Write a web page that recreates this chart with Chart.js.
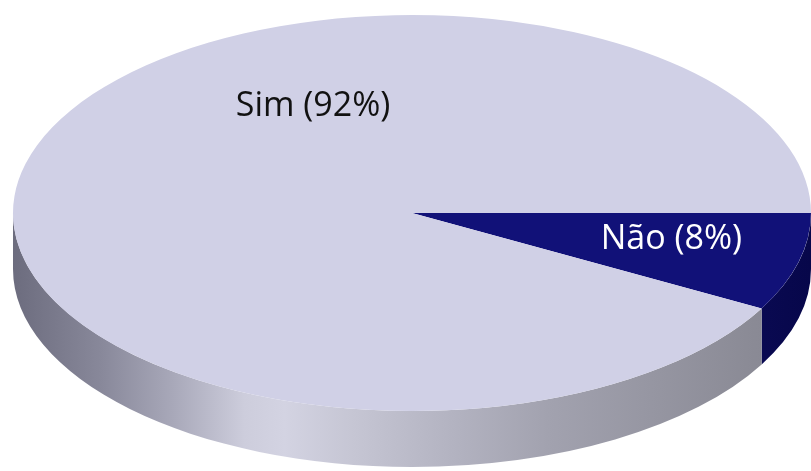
<!DOCTYPE html>
<html>
<head>
<meta charset="utf-8">
<script src="https://cdn.jsdelivr.net/npm/chart.js@4.4.1/dist/chart.umd.min.js"></script>
<style>
  html, body { margin: 0; padding: 0; background: #fff; }
  #wrap { width: 811px; height: 471px; }
</style>
</head>
<body>
<div id="wrap"><canvas id="grafico" width="811" height="471"></canvas></div>
<script>
// Respuestas (porcentajes)
const categorias = ['Não', 'Sim'];
const valores = [8, 92];
const coresTopo = ['#111178', '#d0d0e6'];

// Posición de cada etiqueta relativa a la elipse (-1..1)
const posEtiquetas = [[0.65, 0.135], [-0.248, -0.54]];
const corEtiquetas = ['#ffffff', '#111111'];

// Pastel "3D": aplana el círculo en elipse y dibuja el canto
const pastel3d = {
  id: 'pastel3d',
  beforeDatasetsDraw(chart, args, o) {
    const ctx = chart.ctx;
    const arcs = chart.getDatasetMeta(0).data;
    // canto visible (mitad frontal: 0..PI)
    arcs.forEach((arc, i) => {
      const p = arc.getProps(['startAngle', 'endAngle'], true);
      const a = Math.max(p.startAngle, 0);
      const b = Math.min(p.endAngle, Math.PI);
      if (b <= a) return;
      const g = ctx.createLinearGradient(o.cx - o.rx, 0, o.cx + o.rx, 0);
      o.cantos[i].forEach(([t, c]) => g.addColorStop(t, c));
      ctx.beginPath();
      ctx.ellipse(o.cx, o.cy, o.rx, o.ry, 0, a, b);
      ctx.ellipse(o.cx, o.cy + o.alto, o.rx, o.ry, 0, b, a, true);
      ctx.closePath();
      ctx.fillStyle = g;
      ctx.fill();
    });
    const a0 = arcs[0];
    const R = a0.outerRadius;
    ctx.save();
    ctx.translate(o.cx, o.cy);
    ctx.scale(o.rx / R, o.ry / R);
    ctx.translate(-a0.x, -a0.y);
  },
  afterDatasetsDraw(chart, args, o) {
    const ctx = chart.ctx;
    ctx.restore();
    ctx.font = '34px "Open Sans"';
    ctx.textAlign = 'center';
    ctx.textBaseline = 'middle';
    categorias.forEach((c, i) => {
      const [u, v] = posEtiquetas[i];
      ctx.fillStyle = corEtiquetas[i];
      ctx.fillText(`${c} (${valores[i]}%)`, o.cx + u * o.rx, o.cy + v * o.ry);
    });
  }
};

new Chart(document.getElementById('grafico'), {
  type: 'pie',
  data: {
    labels: categorias,
    datasets: [{
      data: valores,
      backgroundColor: coresTopo,
      borderWidth: 0
    }]
  },
  options: {
    responsive: false,
    animation: false,
    rotation: 90,
    events: [],
    plugins: {
      legend: { display: false },
      tooltip: { enabled: false },
      pastel3d: {
        cx: 412, cy: 213, rx: 399, ry: 198, alto: 56,
        cantos: [
          [[0, '#0e0e62'], [0.85, '#0c0c5c'], [1, '#07074a']],
          [[0, '#6c6c7e'], [0.11, '#88889a'], [0.2, '#a8a8b9'], [0.29, '#cdcddc'],
           [0.34, '#d3d3e2'], [0.43, '#c5c5d3'], [0.55, '#b3b3c1'], [0.67, '#a2a2af'],
           [0.8, '#9696a2'], [0.93, '#8a8a95'], [1, '#858590']]
        ]
      }
    }
  },
  plugins: [pastel3d]
});
</script>
</body>
</html>
